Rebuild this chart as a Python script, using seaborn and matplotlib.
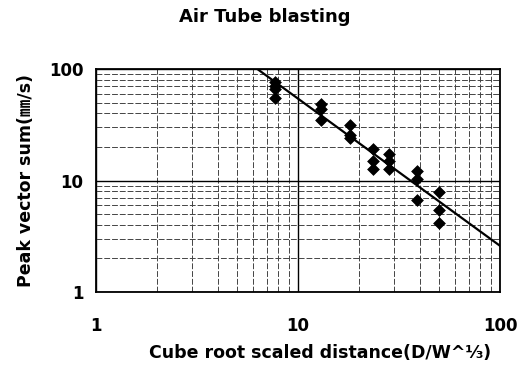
import numpy as np
import pandas as pd
import matplotlib
matplotlib.use("Agg")
import matplotlib.pyplot as plt
import seaborn as sns
from matplotlib.ticker import LogLocator, FixedLocator, NullFormatter

# ---- data ----
scaled_distance = [7.7, 7.7, 7.7, 7.7,
                   13.0, 13.0, 13.0,
                   18.0, 18.0, 18.0,
                   23.4, 23.4, 23.4,
                   28.3, 28.3, 28.3,
                   39.0, 39.0, 39.0,
                   50.0, 50.0, 50.0]
pvs = [76, 70, 66, 55,
       49, 44, 35,
       31.5, 25.6, 24,
       19, 15.1, 12.6,
       17.3, 15.1, 12.6,
       12.2, 10.3, 6.7,
       7.9, 5.4, 4.2]
fit_K = 1133.0
fit_n = -1.32
fit_x_range = [5.9, 100.0]

title = "Air Tube blasting"
xlabel = "Cube root scaled distance(D/W^\u2153)"
ylabel = "Peak vector sum(\u339c/s)"
tick_values = [1, 10, 100]
tick_labels = ["1", "10", "100"]

df = pd.DataFrame({"x": scaled_distance, "y": pvs})
fx = np.array(fit_x_range)
fit_df = pd.DataFrame({"x": fx, "y": fit_K * fx ** fit_n})

sns.set_style("white")
fams = ["DejaVu Sans", "Noto Sans CJK KR"]
plt.rcParams["font.family"] = fams
plt.rcParams["text.color"] = "black"
plt.rcParams["axes.labelcolor"] = "black"
plt.rcParams["xtick.color"] = "black"
plt.rcParams["ytick.color"] = "black"

fig = plt.figure(figsize=(5.29, 3.70), dpi=100)
ax = fig.add_axes([96/529, 1-292/370, (500-96)/529, (292-69)/370])

ax.set_xscale("log")
ax.set_yscale("log")
ax.set_xlim(1, 100)
ax.set_ylim(1, 100)

sns.lineplot(data=fit_df, x="x", y="y", ax=ax, color="black", linewidth=1.6, zorder=3)
sns.scatterplot(data=df, x="x", y="y", ax=ax, marker="D", color="black",
                s=36, edgecolor="black", linewidth=0.5, zorder=4)

ax.xaxis.set_major_locator(FixedLocator(tick_values))
ax.yaxis.set_major_locator(FixedLocator(tick_values))
ax.set_xticklabels(tick_labels)
ax.set_yticklabels(tick_labels)
ax.xaxis.set_minor_locator(LogLocator(base=10, subs=np.arange(2, 10)))
ax.yaxis.set_minor_locator(LogLocator(base=10, subs=np.arange(2, 10)))
ax.xaxis.set_minor_formatter(NullFormatter())
ax.yaxis.set_minor_formatter(NullFormatter())

ax.grid(which="major", color="black", linewidth=1.0)
ax.grid(which="minor", color="#444444", linewidth=0.7, linestyle=(0, (6, 2)))
ax.set_axisbelow(True)
for s in ax.spines.values():
    s.set_color("black")
    s.set_linewidth(1.3)

ax.tick_params(axis="both", which="both", length=0, labelsize=12, labelcolor="black")
ax.tick_params(axis="x", pad=18)
ax.tick_params(axis="y", pad=9)
for lab in ax.get_xticklabels() + ax.get_yticklabels():
    lab.set_fontweight("bold")

ax.set_xlabel(xlabel, fontsize=12.5, family=fams, fontweight="bold", color="black")
ax.xaxis.set_label_coords((320-96)/404, -(353-292)/223)
ax.xaxis.label.set_va("center")
ax.set_ylabel(ylabel, fontsize=12.5, family=fams, fontweight="bold", color="black", labelpad=10)
fig.text(265/529, 1-17/370, title, ha="center", va="center", fontsize=13,
         family=fams, fontweight="bold", color="black")

fig.savefig("out.png", dpi=100)
